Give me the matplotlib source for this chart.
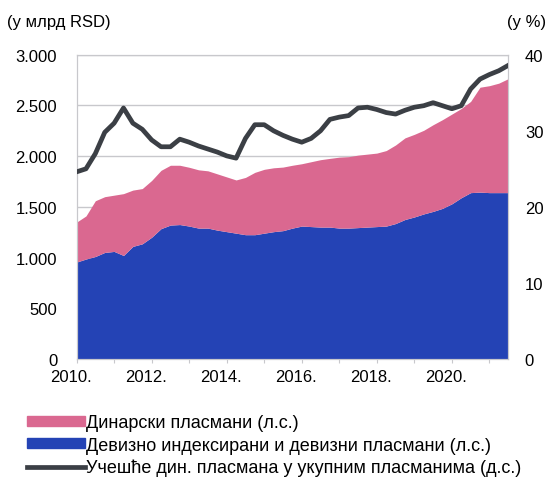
import numpy as np
import matplotlib
matplotlib.use("Agg")
import matplotlib.pyplot as plt
from matplotlib.patches import Patch
from matplotlib.lines import Line2D
from matplotlib.ticker import FuncFormatter
import matplotlib.transforms as mtransforms

plt.rcParams['font.family'] = ['Liberation Sans', 'DejaVu Sans']

# quarterly points, Q1 2010 - Q3 2021
godine = np.arange(2010.0, 2021.51, 0.25)

# devizno indeksirani i devizni plasmani (mlrd RSD)
devizni = [955, 985, 1010, 1050, 1060, 1020, 1110, 1135,
           1200, 1285, 1320, 1325, 1310, 1290, 1290, 1270,
           1255, 1240, 1225, 1225, 1240, 1255, 1265, 1290,
           1310, 1305, 1300, 1300, 1290, 1290, 1295, 1300,
           1305, 1310, 1335, 1375, 1400, 1430, 1455, 1485,
           1530, 1590, 1640, 1645, 1640, 1640, 1640]

# dinarski plasmani (mlrd RSD)
dinarski = [394, 425, 550, 550, 555, 610, 555, 545,
            560, 575, 590, 585, 580, 575, 565, 555,
            540, 525, 565, 615, 630, 630, 627, 620,
            615, 640, 665, 678, 700, 705, 715, 720,
            725, 745, 775, 805, 815, 825, 855, 875,
            885, 880, 900, 1035, 1055, 1080, 1124]

# ucesce dinarskih plasmana (%)
ucesce = [24.6, 25.0, 27.0, 29.8, 31.0, 33.0, 31.0, 30.2,
          28.8, 27.9, 27.9, 28.9, 28.5, 28.0, 27.6, 27.2,
          26.7, 26.4, 29.0, 30.8, 30.8, 30.0, 29.4, 28.9,
          28.5, 29.0, 30.0, 31.5, 31.8, 32.0, 33.0, 33.1,
          32.8, 32.4, 32.2, 32.7, 33.1, 33.3, 33.7, 33.3,
          32.9, 33.3, 35.5, 36.8, 37.4, 37.9, 38.6]

roze = '#da6890'
plava = '#2443b5'
siva = '#3b3f45'
grid_c = '#c8c8cc'
fs = 12

fig = plt.figure(figsize=(5.47, 4.85), dpi=100)
ax = fig.add_axes([0.140, 0.258, 0.789, 0.627])

ukupno = np.array(devizni) + np.array(dinarski)
ax.fill_between(godine, 0, devizni, color=plava, lw=0, zorder=2)
ax.fill_between(godine, devizni, ukupno, color=roze, lw=0, zorder=2)

ax.set_xlim(2010, 2021.5)
ax.set_ylim(0, 3000)
ax.set_yticks(np.arange(0, 3001, 500))
ax.yaxis.set_major_formatter(FuncFormatter(lambda v, p: f"{int(v):,}".replace(",", ".")))
ax.grid(axis='y', color=grid_c, lw=1, zorder=0)
ax.set_axisbelow(True)
ax.set_xticks(np.arange(2010, 2022, 1))
ax.set_xticklabels([f"{y}." if y % 2 == 0 and y < 2021 else "" for y in range(2010, 2022)])
ax.tick_params(axis='x', length=3, color=grid_c, labelsize=fs, pad=4)
ax.tick_params(axis='y', length=0, labelsize=fs, pad=14)
pomak = mtransforms.ScaledTranslation(-4 / 72, 0, fig.dpi_scale_trans)
for lbl in ax.get_xticklabels():
    lbl.set_transform(lbl.get_transform() + pomak)
for s in ax.spines.values():
    s.set_color(grid_c)

ax2 = ax.twinx()
ax2.plot(godine, ucesce, color=siva, lw=3.4, solid_joinstyle='round', zorder=3)
ax2.set_ylim(0, 40)
ax2.set_yticks([0, 10, 20, 30, 40])
ax2.tick_params(axis='y', length=0, labelsize=fs, pad=12)
for s in ax2.spines.values():
    s.set_color(grid_c)

fig.text(0.013, 0.953, "(у млрд RSD)", fontsize=fs, va='center', ha='left')
fig.text(0.998, 0.953, "(у %)", fontsize=fs, va='center', ha='right')

handles = [Patch(color=roze), Patch(color=plava), Line2D([0], [0], color=siva, lw=3.4)]
labels = ["Динарски пласмани (л.с.)",
          "Девизно индексирани и девизни пласмани (л.с.)",
          "Учешће дин. пласмана у укупним пласманима (д.с.)"]
fig.legend(handles, labels, loc='upper left', bbox_to_anchor=(0.049, 0.144),
           frameon=False, fontsize=13, handlelength=3.2, handleheight=0.45,
           handletextpad=0.1, labelspacing=0.3, borderpad=0, borderaxespad=0)

plt.savefig("out.png", dpi=100)
